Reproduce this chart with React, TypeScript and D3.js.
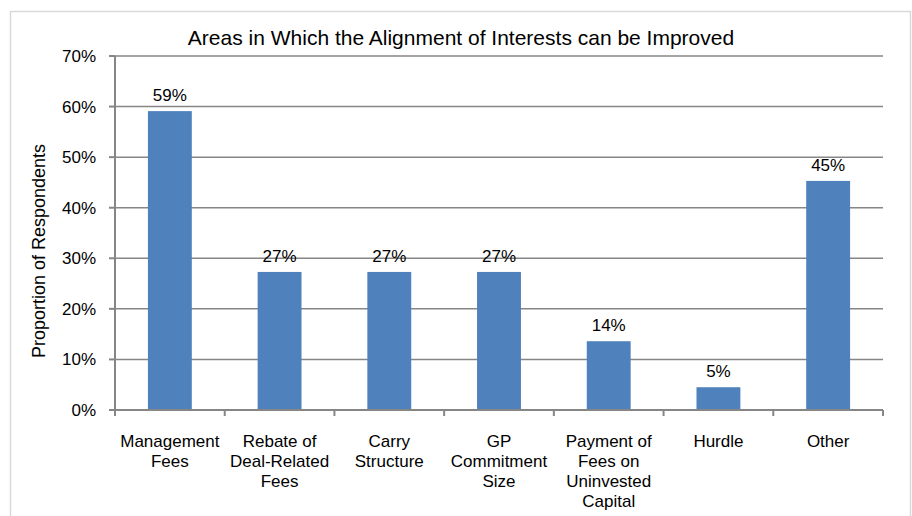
import React, { useEffect, useRef } from 'react'
import * as d3 from 'd3'

const categories = [
  ['Management', 'Fees'],
  ['Rebate of', 'Deal-Related', 'Fees'],
  ['Carry', 'Structure'],
  ['GP', 'Commitment', 'Size'],
  ['Payment of', 'Fees on', 'Uninvested', 'Capital'],
  ['Hurdle'],
  ['Other'],
]
const values = [59.1, 27.3, 27.3, 27.3, 13.6, 4.5, 45.3]
const yTicks = [0, 10, 20, 30, 40, 50, 60, 70]

export default function App() {
  const svgRef = useRef<SVGSVGElement>(null)

  useEffect(() => {
    if (!svgRef.current) return
    const W = 912
    const H = 516
    const margin = { top: 56, right: 29, bottom: 106, left: 115 }
    const width = W - margin.left - margin.right
    const height = H - margin.top - margin.bottom
    const font = "'Liberation Sans', Arial, sans-serif"
    const axisColor = '#868686'

    const root = d3.select(svgRef.current)
    root.selectAll('*').remove()

    // outer chart border
    root.append('rect')
      .attr('x', 10.5)
      .attr('y', 11.5)
      .attr('width', 900)
      .attr('height', 520)
      .attr('fill', 'white')
      .attr('stroke', '#d9d9d9')
      .attr('stroke-width', 1.5)

    root.append('text')
      .attr('x', 461)
      .attr('y', 45)
      .attr('text-anchor', 'middle')
      .style('font-family', font)
      .style('font-size', '21px')
      .attr('fill', '#000')
      .text('Areas in Which the Alignment of Interests can be Improved')

    const svg = root.append('g').attr('transform', `translate(${margin.left},${margin.top})`)

    const x = d3.scaleBand<number>()
      .domain(d3.range(values.length))
      .range([0, width])
      .paddingInner(0.6)
      .paddingOuter(0.3)
    const step = width / values.length
    const y = d3.scaleLinear().domain([0, 70]).range([height, 0])

    // gridlines
    svg.append('g')
      .selectAll('line')
      .data(yTicks.filter(t => t > 0))
      .enter()
      .append('line')
      .attr('x1', 0)
      .attr('x2', width)
      .attr('y1', d => y(d))
      .attr('y2', d => y(d))
      .attr('stroke', axisColor)
      .attr('stroke-width', 1.5)

    // bars
    svg.append('g')
      .selectAll('rect')
      .data(values)
      .enter()
      .append('rect')
      .attr('x', (_, i) => i * step + (step - x.bandwidth()) / 2)
      .attr('y', d => y(d))
      .attr('width', x.bandwidth())
      .attr('height', d => height - y(d))
      .attr('fill', '#4f81bd')

    // data labels
    svg.append('g')
      .selectAll('text')
      .data(values)
      .enter()
      .append('text')
      .attr('x', (_, i) => i * step + step / 2)
      .attr('y', d => y(d) - 10)
      .attr('text-anchor', 'middle')
      .style('font-family', font)
      .style('font-size', '17px')
      .text(d => `${Math.round(d)}%`)

    // y axis
    svg.append('line')
      .attr('x1', 0).attr('x2', 0)
      .attr('y1', 0).attr('y2', height)
      .attr('stroke', axisColor)
      .attr('stroke-width', 2)
    svg.append('g')
      .selectAll('line')
      .data(yTicks)
      .enter()
      .append('line')
      .attr('x1', -6)
      .attr('x2', 0)
      .attr('y1', d => y(d))
      .attr('y2', d => y(d))
      .attr('stroke', axisColor)
      .attr('stroke-width', 2)
    svg.append('g')
      .selectAll('text')
      .data(yTicks)
      .enter()
      .append('text')
      .attr('x', -19)
      .attr('y', d => y(d) + 6)
      .attr('text-anchor', 'end')
      .style('font-family', font)
      .style('font-size', '17px')
      .text(d => `${d}%`)

    svg.append('text')
      .attr('transform', 'rotate(-90)')
      .attr('x', -(251 - margin.top))
      .attr('y', -70)
      .attr('text-anchor', 'middle')
      .style('font-family', font)
      .style('font-size', '18px')
      .text('Proportion of Respondents')

    // x axis
    svg.append('line')
      .attr('x1', 0).attr('x2', width)
      .attr('y1', height).attr('y2', height)
      .attr('stroke', axisColor)
      .attr('stroke-width', 2)
    svg.append('g')
      .selectAll('line')
      .data(d3.range(values.length + 1))
      .enter()
      .append('line')
      .attr('x1', d => d * step)
      .attr('x2', d => d * step)
      .attr('y1', height)
      .attr('y2', height + 6)
      .attr('stroke', axisColor)
      .attr('stroke-width', 2)

    const labels = svg.append('g')
      .selectAll('text')
      .data(categories)
      .enter()
      .append('text')
      .attr('text-anchor', 'middle')
      .style('font-family', font)
      .style('font-size', '17px')
    labels.each(function (lines, i) {
      d3.select(this)
        .selectAll('tspan')
        .data(lines)
        .enter()
        .append('tspan')
        .attr('x', i * step + step / 2)
        .attr('y', (_, j) => height + 37 + j * 20)
        .text(d => d)
    })
  }, [])

  return (
    <svg
      ref={svgRef}
      width={912}
      height={516}
      style={{ position: 'absolute', left: 0, top: 0, background: 'white' }}
    />
  )
}
